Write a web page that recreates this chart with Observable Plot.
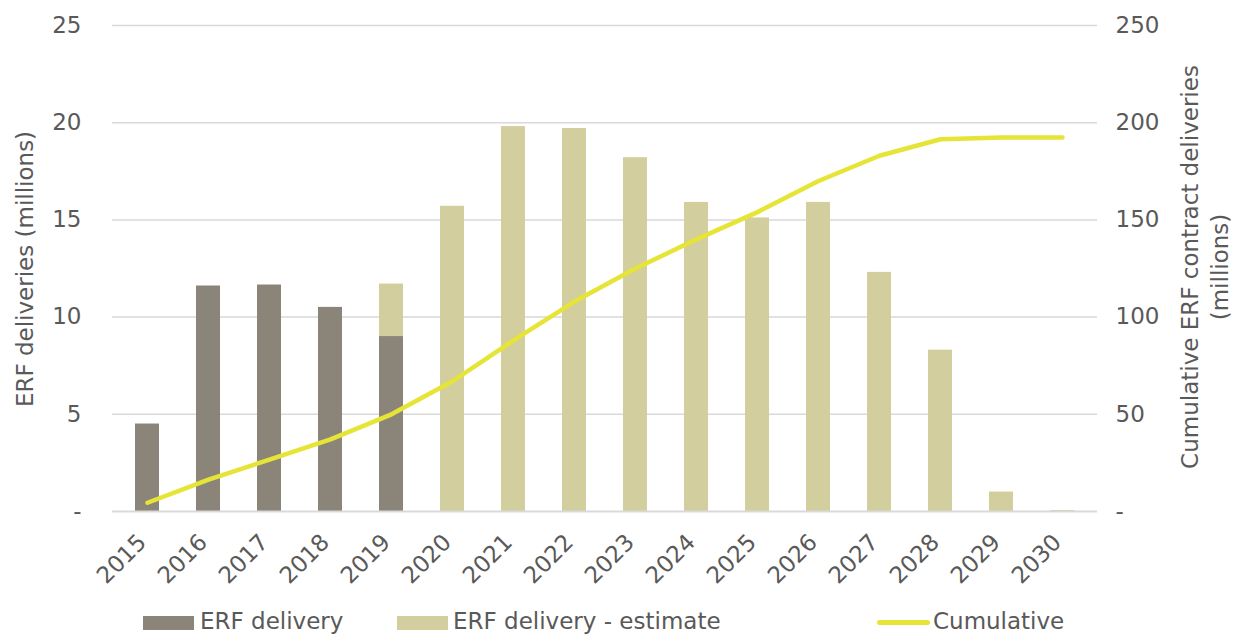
<!DOCTYPE html>
<html>
<head>
<meta charset="utf-8">
<script src="https://cdn.jsdelivr.net/npm/d3@7"></script>
<script src="https://cdn.jsdelivr.net/npm/@observablehq/plot@0.6"></script>
<style>
  html, body { margin: 0; padding: 0; background: #fff; }
  #wrap { position: relative; width: 1243px; height: 637px; font-family: "DejaVu Sans", Verdana, sans-serif; color: #595959; }
  #chart { position: absolute; left: 0; top: 0; }
  .ytitle { position: absolute; font-size: 23px; white-space: nowrap; text-align: center; line-height: 30px; }
  .leg { position: absolute; font-size: 23px; line-height: 23px; white-space: nowrap; }
  .sw { position: absolute; }
</style>
</head>
<body>
<div id="wrap">
  <div id="chart"></div>
  <div class="ytitle" id="lt" style="left:25px; top:269px; transform: translate(-50%,-50%) rotate(-90deg);">ERF deliveries (millions)</div>
  <div class="ytitle" id="rt" style="left:1205px; top:267px; transform: translate(-50%,-50%) rotate(-90deg);">Cumulative ERF contract deliveries<br>(millions)</div>
  <div id="legend"></div>
</div>
<script>
const years = ["2015","2016","2017","2018","2019","2020","2021","2022","2023","2024","2025","2026","2027","2028","2029","2030"];
const deliveryActual   = [4.5, 11.6, 11.65, 10.5, 9.0, 0, 0, 0, 0, 0, 0, 0, 0, 0, 0, 0];
const deliveryEstimate = [0, 0, 0, 0, 2.7, 15.7, 19.8, 19.7, 18.2, 15.9, 15.1, 15.9, 12.3, 8.3, 1.0, 0.05];
const cumulative       = [4.5, 16.4, 26.7, 37.1, 50, 67, 88, 108, 125, 140, 154, 170, 183, 191.5, 192.4, 192.4];
const seriesNames = ["ERF delivery", "ERF delivery - estimate", "Cumulative"];
const seriesColors = ["#8b8478", "#d3ce9d", "#e6e437"];
const leftTicks = [0, 5, 10, 15, 20, 25];
const rightTicks = [0, 50, 100, 150, 200, 250];

const bars = [];
years.forEach((yr, i) => {
  bars.push({year: yr, series: seriesNames[0], value: deliveryActual[i]});
  bars.push({year: yr, series: seriesNames[1], value: deliveryEstimate[i]});
});
const cum = years.map((yr, i) => ({year: yr, value: cumulative[i] / 10}));

const textColor = "#595959";
const chart = Plot.plot({
  width: 1243,
  height: 590,
  marginLeft: 112,
  marginRight: 146,
  marginTop: 25,
  marginBottom: 79,
  style: {fontFamily: "'DejaVu Sans', Verdana, sans-serif", fontSize: "23px", color: textColor, background: "white"},
  x: {domain: years, paddingInner: 0.6, paddingOuter: 0.3, label: null},
  y: {domain: [0, 25], label: null},
  color: {domain: seriesNames.slice(0, 2), range: seriesColors.slice(0, 2)},
  marks: [
    Plot.gridY(leftTicks.filter(d => d > 0), {stroke: "#d9d9d9", strokeOpacity: 1, strokeWidth: 1.5}),
    Plot.barY(bars, {x: "year", y: "value", fill: "series", order: seriesNames.slice(0, 2)}),
    Plot.ruleY([0], {stroke: "#d9d9d9", strokeWidth: 2}),
    Plot.line(cum, {x: "year", y: "value", stroke: seriesColors[2], strokeWidth: 4.5, strokeLinecap: "round", strokeLinejoin: "round"}),
    Plot.axisY(leftTicks, {anchor: "left", tickSize: 0, tickPadding: 31, tickFormat: d => d === 0 ? "-" : String(d), fill: textColor, label: null}),
    Plot.axisY(leftTicks, {anchor: "right", tickSize: 0, tickPadding: 18, tickFormat: d => d === 0 ? "-" : String(d * 10), fill: textColor, label: null}),
    Plot.axisX({tickSize: 0, tickPadding: 10, tickRotate: -45, dx: -5, dy: 17, fill: textColor, label: null})
  ]
});
document.getElementById("chart").appendChild(chart);

// Legend
const legend = document.getElementById("legend");
const legItems = [
  {name: seriesNames[0], color: seriesColors[0], kind: "box", sx: 143, sw: 51, tx: 200},
  {name: seriesNames[1], color: seriesColors[1], kind: "box", sx: 397, sw: 51, tx: 453},
  {name: seriesNames[2], color: seriesColors[2], kind: "line", sx: 877, sw: 53, tx: 933}
];
legItems.forEach(it => {
  const s = document.createElement("div");
  s.className = "sw";
  s.style.left = it.sx + "px";
  s.style.width = it.sw + "px";
  s.style.background = it.color;
  if (it.kind === "box") { s.style.top = "616px"; s.style.height = "14px"; }
  else { s.style.top = "620px"; s.style.height = "5px"; s.style.borderRadius = "3px"; }
  legend.appendChild(s);
  const t = document.createElement("div");
  t.className = "leg";
  t.style.left = it.tx + "px";
  t.style.top = "610px";
  t.textContent = it.name;
  legend.appendChild(t);
});
</script>
</body>
</html>
